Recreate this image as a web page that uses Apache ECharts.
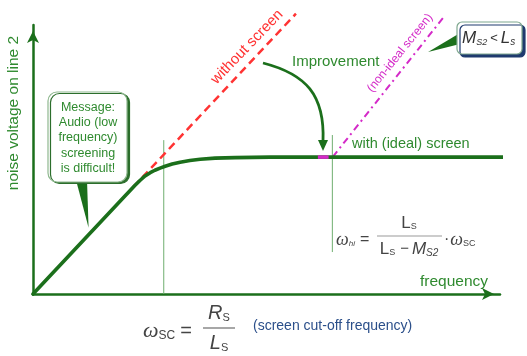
<!DOCTYPE html>
<html>
<head>
<meta charset="utf-8">
<script src="https://cdn.jsdelivr.net/npm/echarts@6/dist/echarts.min.js"></script>
<style>
  html, body { margin: 0; padding: 0; background: #fff; }
  #chart { width: 527px; height: 356px; }
</style>
</head>
<body>
<div id="chart"></div>
<script>
// Noise voltage on line 2 versus frequency (normalized units).
// With an ideal screen: rises with frequency, then levels off above the cut-off.
const screenedFreq  = [0, 21.8, 22.9, 24.0, 25.1, 26.1, 27.2, 28.3, 29.8, 31.5, 33.6, 35.8, 39.0, 43.3, 50.8, 101.7];
const screenedNoise = [0, 40.3, 42.2, 43.9, 45.1, 46.0, 46.8, 47.5, 48.3, 49.0, 49.6, 50.1, 50.5, 50.7, 50.9, 50.9];
// Without screen: keeps rising along the low-frequency slope.
const unscreenedFreq  = [21.5, 56.3];
const unscreenedNoise = [39.8, 104.2];
// Non-ideal screen: rises again above omega_hi.
const nonIdealFreq  = [64.2, 88.2];
const nonIdealNoise = [51, 103.5];
// Characteristic frequencies and the extent of their marker lines.
const omegaSC = 28;
const omegaSCSpan = [0, 57.2];
const omegaHi = 64.1;
const omegaHiSpan = [15.6, 59.1];
// Short highlight on the plateau where the improvement ends.
const highlightFreq = [61, 63.3];

const GREEN = '#1b6f1b';
const TEXT_GREEN = '#2f8a2f';
const SANS = '"Liberation Sans", Arial, sans-serif';
const SERIF = '"Liberation Serif", "Times New Roman", serif';

const zip = (xs, ys) => xs.map((x, i) => [x, ys[i]]);

const chart = echarts.init(document.getElementById('chart'), null, { renderer: 'canvas' });

const plain = { symbol: 'none', silent: true, clip: false, animation: false };
const axisCommon = {
  type: 'value', min: 0, max: 100,
  axisLine: { show: true, onZero: false, symbol: ['none', 'arrow'], symbolSize: [9, 12],
              symbolOffset: [0, -6], lineStyle: { color: GREEN, width: 2.5 } },
  axisTick: { show: false }, axisLabel: { show: false }, splitLine: { show: false }
};

chart.setOption({
  animation: false,
  grid: { left: 33, right: 27, top: 25, bottom: 62 },
  xAxis: axisCommon,
  yAxis: axisCommon,
  series: [
    Object.assign({ type: 'line', name: 'without screen', z: 2,
      data: zip(unscreenedFreq, unscreenedNoise),
      lineStyle: { color: '#ff3333', width: 2.5, type: [8, 5] } }, plain),
    Object.assign({ type: 'line', name: 'non-ideal screen', z: 2,
      data: zip(nonIdealFreq, nonIdealNoise),
      lineStyle: { color: '#d42ac8', width: 2, type: [7, 4, 2, 4] } }, plain),
    Object.assign({ type: 'line', name: 'omega_sc', z: 1,
      data: [[omegaSC, omegaSCSpan[0]], [omegaSC, omegaSCSpan[1]]],
      lineStyle: { color: '#6fae6f', width: 1 } }, plain),
    Object.assign({ type: 'line', name: 'omega_hi', z: 1,
      data: [[omegaHi, omegaHiSpan[0]], [omegaHi, omegaHiSpan[1]]],
      lineStyle: { color: '#6fae6f', width: 1 } }, plain),
    Object.assign({ type: 'line', name: 'with (ideal) screen', z: 3,
      data: zip(screenedFreq, screenedNoise),
      lineStyle: { color: GREEN, width: 3.6, join: 'round', cap: 'round' } }, plain),
    Object.assign({ type: 'line', name: 'highlight', z: 4,
      data: highlightFreq.map(f => [f, screenedNoise[screenedNoise.length - 1]]),
      lineStyle: { color: '#d42ac8', width: 3.6 } }, plain)
  ]
});

// ---- annotations ----
const measure = document.createElement('canvas').getContext('2d');
function textWidth(t, font) { measure.font = font; return measure.measureText(t).width; }

// Lays out a run of formula pieces left to right on a common middle line.
function mathRun(x, y, pieces, color) {
  const els = [];
  let cx = x;
  pieces.forEach(p => {
    const size = p.size || 16;
    const style = p.italic ? 'italic' : 'normal';
    const weight = p.bold ? 'bold' : 'normal';
    const family = p.serif ? SERIF : SANS;
    const font = `${style} ${weight} ${size}px ${family}`;
    els.push({ type: 'text', x: cx, y: y + (p.dy || 0), silent: true,
      style: { text: p.t, fill: p.color || color, font: font, align: 'left', verticalAlign: 'middle' } });
    cx += textWidth(p.t, font) + (p.gap || 0);
  });
  return { els, width: cx - x };
}
function centeredRun(cx, y, pieces, color) {
  const probe = mathRun(0, y, pieces, color);
  return mathRun(cx - probe.width / 2, y, pieces, color).els;
}

const px = (f, v) => chart.convertToPixel({ gridIndex: 0 }, [f, v]);

const arrowTip = px(62.1, 53.2);
const msgTip = px(11.9, 24.6);
const mTip = px(84.6, 90);

const graphics = [];

// axis titles
graphics.push({ type: 'text', x: 14, y: 113, rotation: Math.PI / 2, silent: true,
  style: { text: 'noise voltage on line 2', fill: TEXT_GREEN, font: `15.5px ${SANS}`,
           align: 'center', verticalAlign: 'middle' } });
graphics.push({ type: 'text', x: 420, y: 282, silent: true,
  style: { text: 'frequency', fill: TEXT_GREEN, font: `15.5px ${SANS}`, align: 'left', verticalAlign: 'middle' } });

// line labels
graphics.push({ type: 'text', x: 247, y: 47, rotation: 46 * Math.PI / 180, silent: true,
  style: { text: 'without screen', fill: '#ff3333', font: `15px ${SANS}`, align: 'center', verticalAlign: 'middle' } });
graphics.push({ type: 'text', x: 400, y: 53, rotation: 51 * Math.PI / 180, silent: true,
  style: { text: '(non-ideal screen)', fill: '#d42ac8', font: `12px ${SANS}`, align: 'center', verticalAlign: 'middle' } });
graphics.push({ type: 'text', x: 292, y: 62, silent: true,
  style: { text: 'Improvement', fill: TEXT_GREEN, font: `15px ${SANS}`, align: 'left', verticalAlign: 'middle' } });
graphics.push({ type: 'text', x: 352, y: 144, silent: true,
  style: { text: 'with (ideal) screen', fill: TEXT_GREEN, font: `14.5px ${SANS}`, align: 'left', verticalAlign: 'middle' } });

// curved "Improvement" arrow
graphics.push({ type: 'bezierCurve', silent: true, z: 10,
  shape: { x1: 263, y1: 63, cpx1: 306, cpy1: 74, cpx2: arrowTip[0] + 2, cpy2: 95, x2: arrowTip[0], y2: arrowTip[1] - 9 },
  style: { stroke: GREEN, lineWidth: 2.8, fill: null } });
graphics.push({ type: 'polygon', silent: true, z: 10,
  shape: { points: [[arrowTip[0], arrowTip[1]], [arrowTip[0] - 5, arrowTip[1] - 11], [arrowTip[0] + 5, arrowTip[1] - 11]] },
  style: { fill: GREEN } });

// message callout
graphics.push({ type: 'polygon', silent: true, z: 9,
  shape: { points: [[76, 180], [87, 180], msgTip] }, style: { fill: GREEN } });
graphics.push({ type: 'rect', silent: true, z: 10,
  shape: { x: 48, y: 92, width: 79, height: 90, r: 9 },
  style: { fill: '#fff', stroke: '#8fb88f', lineWidth: 1.2,
           shadowColor: '#2c6e2c', shadowOffsetX: 2.5, shadowOffsetY: 1.5, shadowBlur: 0 } });
graphics.push({ type: 'text', x: 88, y: 138, silent: true, z: 11,
  style: { text: 'Message:\nAudio (low\nfrequency)\nscreening\nis difficult!', fill: TEXT_GREEN,
           font: `12.5px ${SANS}`, lineHeight: 15.3, align: 'center', verticalAlign: 'middle' } });

// M_S2 < L_S callout
graphics.push({ type: 'polygon', silent: true, z: 9,
  shape: { points: [[460, 33], [460, 44], mTip] }, style: { fill: GREEN } });
graphics.push({ type: 'rect', silent: true, z: 10,
  shape: { x: 457, y: 22, width: 65, height: 32, r: 5 },
  style: { fill: '#fff', stroke: '#7fa88f', lineWidth: 1.2,
           shadowColor: '#1f3a6e', shadowOffsetX: 3, shadowOffsetY: 3, shadowBlur: 0 } });
mathRun(462, 38, [
  { t: 'M', italic: true, size: 17 },
  { t: 'S2', italic: true, size: 9, dy: 4, gap: 3 },
  { t: '<', size: 13, gap: 3 },
  { t: 'L', italic: true, size: 17 },
  { t: 's', italic: true, size: 10, dy: 4 }
], '#333').els.forEach(e => { e.z = 11; graphics.push(e); });

// omega_hi formula
const FC = '#444';
mathRun(336, 240, [
  { t: 'ω', italic: true, serif: true, size: 18 },
  { t: 'hi', italic: true, size: 8, dy: 4, gap: 5 },
  { t: '=', size: 16 }
], FC).els.forEach(e => graphics.push(e));
graphics.push({ type: 'line', silent: true, shape: { x1: 377, y1: 236, x2: 442, y2: 236 },
  style: { stroke: '#9a9a9a', lineWidth: 1.2 } });
centeredRun(409, 223, [
  { t: 'L', size: 17 }, { t: 'S', size: 9, dy: 4 }
], FC).forEach(e => graphics.push(e));
centeredRun(409, 249, [
  { t: 'L', size: 17 }, { t: 'S', size: 9, dy: 4, gap: 5 },
  { t: '−', size: 15, gap: 3 },
  { t: 'M', italic: true, size: 17 }, { t: 'S2', italic: true, size: 10, dy: 4 }
], FC).forEach(e => graphics.push(e));
mathRun(444, 240, [
  { t: '·', size: 16, gap: 1 },
  { t: 'ω', italic: true, serif: true, size: 18 },
  { t: 'SC', size: 9, dy: 4 }
], FC).els.forEach(e => graphics.push(e));

// omega_SC formula
mathRun(143, 331, [
  { t: 'ω', italic: true, serif: true, size: 22 },
  { t: 'SC', size: 12, dy: 5, gap: 5 },
  { t: '=', size: 20 }
], FC).els.forEach(e => graphics.push(e));
graphics.push({ type: 'line', silent: true, shape: { x1: 203, y1: 328, x2: 235, y2: 328 },
  style: { stroke: '#777', lineWidth: 1.3 } });
centeredRun(219, 313, [
  { t: 'R', italic: true, size: 20 }, { t: 'S', size: 11, dy: 5 }
], FC).forEach(e => graphics.push(e));
centeredRun(219, 343, [
  { t: 'L', italic: true, size: 20 }, { t: 'S', size: 11, dy: 5 }
], FC).forEach(e => graphics.push(e));
graphics.push({ type: 'text', x: 253, y: 326, silent: true,
  style: { text: '(screen cut-off frequency)', fill: '#2b4f8a', font: `14px ${SANS}`, align: 'left', verticalAlign: 'middle' } });

chart.setOption({ graphic: { elements: graphics } });
</script>
</body>
</html>
